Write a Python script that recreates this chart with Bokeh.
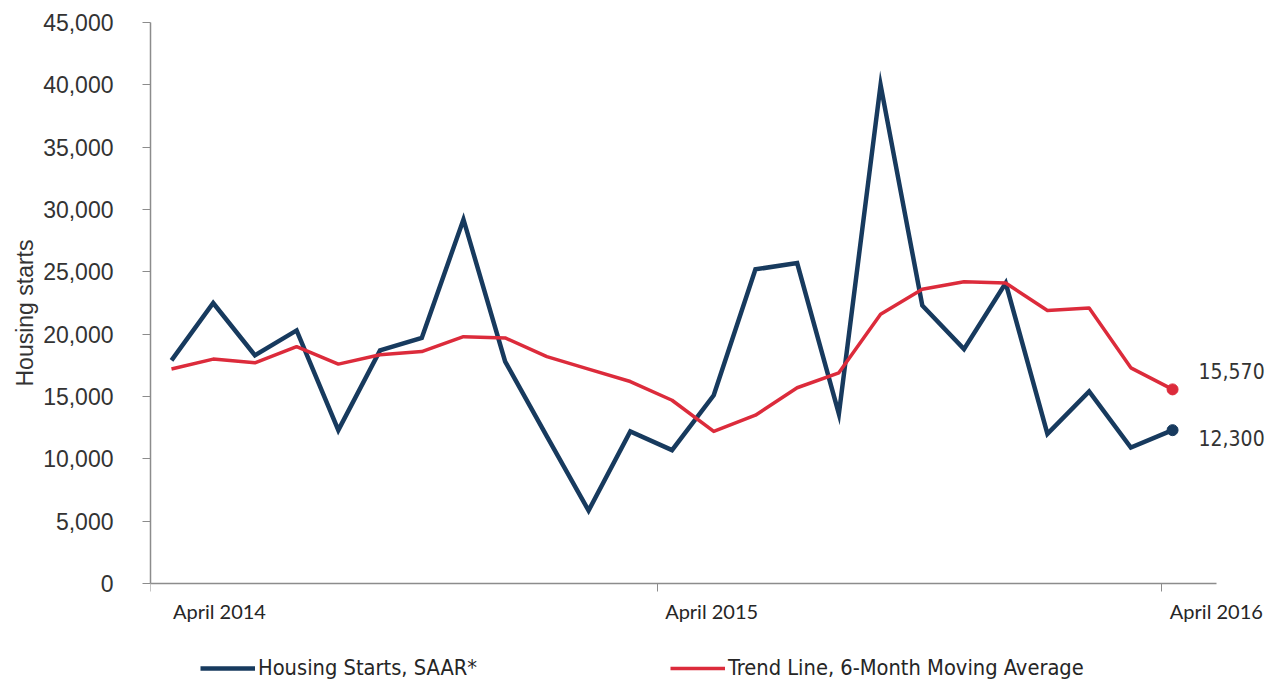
from bokeh.plotting import figure
from bokeh.models import (Range1d, FixedTicker, NumeralTickFormatter, Legend, LegendItem,
                          ColumnDataSource, Title)
from bokeh.core.properties import value
from bokeh.embed import file_html
from bokeh.resources import INLINE

# ---- data (monthly, April 2014 .. April 2016) ----
month_index = list(range(25))
housing_starts = [17900, 22500, 18300, 20300, 12300, 18700, 19700, 29200, 17800, 11800,
                  5850, 12200, 10700, 15100, 25200, 25700, 13600, 40000, 22300, 18800,
                  24100, 12000, 15400, 10900, 12300]
trend_6m = [17200, 18000, 17700, 19000, 17600, 18350, 18600, 19800, 19700, 18200,
            17200, 16200, 14700, 12200, 13500, 15700, 16900, 21600, 23600, 24200,
            24100, 21900, 22100, 17300, 15570]
x_tick_positions = [1.15, 12.95, 25.05]
x_tick_labels = ["April 2014", "April 2015", "April 2016"]
x_boundaries = [-0.5, 11.65, 23.74]
y_ticks = list(range(0, 45001, 5000))
series_names = ["Housing Starts, SAAR*", "Trend Line, 6-Month Moving Average"]
end_labels = ["12,300", "15,570"]
y_title = "Housing starts"

BLUE = "#173a5e"
RED = "#dc2b3b"
NARROW = "'Liberation Sans Narrow', 'DejaVu Sans Condensed', sans-serif"

p = figure(width=1268, height=680, output_backend="svg", toolbar_location=None,
           x_range=Range1d(-0.503, 26.3), y_range=Range1d(-7781, 45000),
           min_border_left=150, min_border_right=0, min_border_top=22, min_border_bottom=0)
p.outline_line_color = None
p.xgrid.grid_line_color = None
p.ygrid.grid_line_color = None
p.background_fill_color = "white"

src = ColumnDataSource(dict(x=month_index, hs=housing_starts, tr=trend_6m))

r_hs = p.line("x", "hs", source=src, line_color=BLUE, line_width=4.5, line_join="miter")
r_tr = p.line("x", "tr", source=src, line_color=RED, line_width=3.5, line_join="round")

# end markers and value labels
last = month_index[-1]
p.scatter([last], [housing_starts[-1]], size=11, color=BLUE)
p.scatter([last], [trend_6m[-1]], size=11, color=RED)
p.text([last, last], [housing_starts[-1], trend_6m[-1]], text=end_labels,
       x_offset=26, y_offset=[8, -18], text_font=value(NARROW), text_font_size="21px",
       text_color="#333333", text_baseline="middle", text_align="left")

# y axis
ya = p.yaxis[0]
ya.ticker = FixedTicker(ticks=y_ticks)
ya.formatter = NumeralTickFormatter(format="0,0")
ya.bounds = (0, 45000)
ya.major_label_text_font = "Liberation Sans"
ya.major_label_text_font_size = "23px"
ya.major_label_text_color = "#333333"
ya.major_tick_out = 8
ya.major_tick_in = 0
ya.minor_tick_line_color = None
ya.major_tick_line_color = "#8c8c8c"
ya.axis_line_color = "#8c8c8c"
ya.axis_line_width = 1.5
ya.major_label_standoff = 29

# y-axis title placed along the 0..45,000 span
p.add_layout(Title(text=y_title, align="left", offset=294, standoff=6,
                   text_font="Liberation Sans", text_font_size="23px",
                   text_font_style="normal", text_color="#333333"), "left")

# x axis (fixed at y = 0 so the legend can sit in the frame below it)
xa = p.xaxis[0]
xa.fixed_location = 0
xa.ticker = FixedTicker(ticks=x_tick_positions, minor_ticks=x_boundaries)
xa.major_label_overrides = {t: l for t, l in zip(x_tick_positions, x_tick_labels)}
xa.bounds = (-0.503, 25.06)
xa.major_tick_line_color = None
xa.major_tick_out = 0
xa.major_tick_in = 0
xa.minor_tick_line_color = "#8c8c8c"
xa.minor_tick_out = 8
xa.minor_tick_in = 0
xa.axis_line_color = "#8c8c8c"
xa.axis_line_width = 1.5
xa.major_label_text_font = "Lato"
xa.major_label_text_font_size = "20px"
xa.major_label_text_color = "#262626"
xa.major_label_standoff = 8

# legends (two separate boxes below the axis)
for renderer, name, xloc in [(r_hs, series_names[0], 50), (r_tr, series_names[1], 520)]:
    lg = Legend(items=[LegendItem(label=name, renderers=[renderer])],
                location=(xloc, 0), orientation="horizontal",
                glyph_width=55, glyph_height=20, label_standoff=3, padding=0, margin=0,
                border_line_color=None, background_fill_alpha=0,
                label_text_font=NARROW, label_text_font_size="21.7px",
                label_text_color="#262626")
    p.add_layout(lg, "center")

open("out.html", "w").write(file_html(p, INLINE))
